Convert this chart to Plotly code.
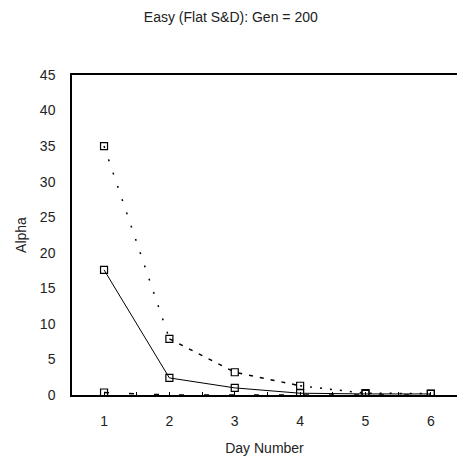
import plotly.graph_objects as go

days = [1, 2, 3, 4, 5, 6]
series_dotted = [35.0, 7.9, 3.2, 1.3, 0.25, 0.2]
series_solid = [17.6, 2.4, 1.0, 0.25, 0.15, 0.15]
series_low = [0.35, 0.0, 0.0, 0.0, 0.0, 0.0]
x_ticks = [1, 2, 3, 4, 5, 6]
y_ticks = [0, 5, 10, 15, 20, 25, 30, 35, 40, 45]

FONT = "Liberation Sans, Arial, sans-serif"
BLACK = "#000000"

fig = go.Figure()

marker = dict(symbol="square-open", size=7, color=BLACK, line=dict(width=1.2, color=BLACK))

# dotted / dashed series drawn in segments with differing dash patterns
segments = [(0, 2, "2px,12px"), (1, 4, "4px,7px"), (3, 6, "2px,8px")]
for a, b, dash in segments:
    fig.add_trace(go.Scatter(x=days[a:b], y=series_dotted[a:b], mode="lines",
                             line=dict(color=BLACK, width=1.5, dash=dash),
                             showlegend=False, hoverinfo="skip"))
fig.add_trace(go.Scatter(x=days, y=series_dotted, mode="markers", marker=marker, showlegend=False))

fig.add_trace(go.Scatter(x=days, y=series_solid, mode="lines+markers",
                         line=dict(color=BLACK, width=1), marker=marker, showlegend=False))

fig.add_trace(go.Scatter(x=days, y=series_low, mode="lines",
                         line=dict(color=BLACK, width=1.5, dash="5px,20px"), showlegend=False,
                         cliponaxis=True))
fig.add_trace(go.Scatter(x=days[:1], y=series_low[:1], mode="markers", marker=marker, showlegend=False))

fig.update_layout(
    width=457, height=469,
    margin=dict(l=72, r=0, t=75, b=74),
    paper_bgcolor="white", plot_bgcolor="white",
    font=dict(family=FONT, size=14, color="#222222"),
    title=dict(text="Easy (Flat S&D): Gen = 200", x=0.505, xanchor="center",
               y=1 - 17 / 469, yanchor="middle", font=dict(size=14, color="#222222")),
)
fig.update_xaxes(
    range=[0.51, 6.4], tickvals=x_ticks, ticktext=[str(v) for v in x_ticks],
    showgrid=False, zeroline=False, showline=True, linecolor=BLACK, linewidth=1.5,
    mirror=True, ticks="inside", ticklen=3, tickcolor=BLACK, tickwidth=1,
    minor=dict(dtick=0.5, tick0=0, ticks="inside", ticklen=3, tickcolor=BLACK, showgrid=False),
    ticklabelstandoff=12,
    title=dict(text="Day Number", standoff=16, font=dict(size=14)),
)
fig.update_yaxes(
    range=[0, 45], tickvals=y_ticks, ticktext=[str(v) for v in y_ticks],
    showgrid=False, zeroline=False, showline=True, linecolor=BLACK, linewidth=1.5,
    ticks="", ticklabelstandoff=12,
    title=dict(text="Alpha", standoff=10, font=dict(size=14)),
)

fig.write_html("out.html")
